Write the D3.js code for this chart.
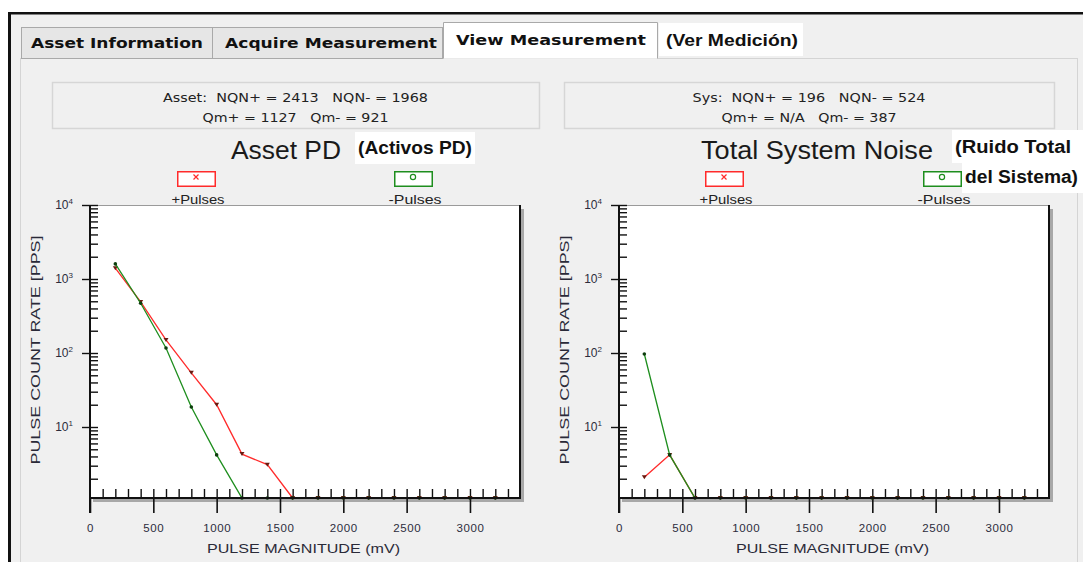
<!DOCTYPE html>
<html>
<head>
<meta charset="utf-8">
<script src="https://cdn.jsdelivr.net/npm/d3@7/dist/d3.min.js"></script>
<style>
  body { margin: 0; background: #fff; }
  svg { display: block; font-family: "Liberation Sans", Arial, sans-serif; }
  text { white-space: pre; }
</style>
</head>
<body>
<div id="chart"></div>
<script>
// pulse magnitude bins (mV)
const magnitudes = [200, 400, 600, 800, 1000, 1200, 1400, 1600, 1800, 2000, 2200, 2400, 2600, 2800, 3000, 3200];

// Asset PD, pulse count rate (PPS), 0 = nothing counted
const assetPos = [1400, 490, 150, 54, 20, 4.3, 3.1, 0, 0, 0, 0, 0, 0, 0, 0, 0];
const assetNeg = [1600, 470, 117, 18.6, 4.2, 0, 0, 0, 0, 0, 0, 0, 0, 0, 0, 0];

// Total System Noise
const noisePos = [2.1, 4.2, 0, 0, 0, 0, 0, 0, 0, 0, 0, 0, 0, 0, 0, 0];
const noiseNeg = [97, 4.2, 0, 0, 0, 0, 0, 0, 0, 0, 0, 0, 0, 0, 0, 0];

// ticks
const xTicks = [0, 500, 1000, 1500, 2000, 2500, 3000];
const yDecades = [10, 100, 1000, 10000];

// texts
const tabLabels = ["Asset Information", "Acquire Measurement", "View Measurement"];
const tabNote = "(Ver Medición)";
const seriesLabels = ["+Pulses", "-Pulses"];

const W = 1083, H = 562;
const RED = "#ff2b2b", GREEN = "#1e8e1e";

const svg = d3.select("#chart").append("svg")
    .attr("width", W)
    .attr("height", H);

// ventana
svg.append("rect").attr("width", W).attr("height", H).attr("fill", "#fff");
svg.append("rect").attr("x", 8).attr("y", 12).attr("width", W - 8).attr("height", H).attr("fill", "#111");
svg.append("rect").attr("x", 11).attr("y", 14.5).attr("width", W - 11).attr("height", H).attr("fill", "#f0f0f0");

// panel de contenido
svg.append("rect").attr("x", 20.5).attr("y", 58.5).attr("width", 1057).attr("height", 520)
    .attr("fill", "#f0f0f0").attr("stroke", "#d4d4d4");

// pestañas
const tabs = [
  {x0: 21, x1: 212, tx: 31, tl: 172},
  {x0: 212, x1: 442, tx: 225, tl: 212}
];
tabs.forEach((t, i) => {
  svg.append("rect").attr("x", t.x0 + 0.5).attr("y", 27.5).attr("width", t.x1 - t.x0).attr("height", 31)
      .attr("fill", "#e6e6e6").attr("stroke", "#a9a9a9");
  svg.append("text").attr("x", t.tx).attr("y", 48)
      .attr("font-family", "DejaVu Sans, Verdana, sans-serif").attr("font-weight", "bold")
      .attr("font-size", 13.5).attr("fill", "#111")
      .attr("textLength", t.tl).attr("lengthAdjust", "spacingAndGlyphs")
      .text(tabLabels[i]);
});
svg.append("path").attr("d", "M443.5,58.5 V22.5 H657.5 V58.5")
    .attr("fill", "#fff").attr("stroke", "#a9a9a9");
svg.append("text").attr("x", 456).attr("y", 45)
    .attr("font-family", "DejaVu Sans, Verdana, sans-serif").attr("font-weight", "bold")
    .attr("font-size", 13.5).attr("fill", "#111")
    .attr("textLength", 190).attr("lengthAdjust", "spacingAndGlyphs")
    .text(tabLabels[2]);
svg.append("rect").attr("x", 659).attr("y", 23).attr("width", 144).attr("height", 33).attr("fill", "#fff");
svg.append("text").attr("x", 666).attr("y", 46)
    .attr("font-family", "Liberation Sans Narrow, Liberation Sans, Arial, sans-serif").attr("font-weight", "bold")
    .attr("font-size", 17).attr("fill", "#111")
    .attr("textLength", 132).attr("lengthAdjust", "spacingAndGlyphs")
    .text(tabNote);

const panels = [
  {
    dx: 0, box: [52, 539], info: ["Asset:  NQN+ = 2413   NQN- = 1968", "Qm+ = 1127   Qm- = 921"], infoLen: [265, 186],
    title: "Asset PD", titleX: 231, titleLen: 110,
    notes: [{box: [355, 132, 120, 32], x: 358, y: 154, len: 114, text: "(Activos PD)"}],
    legend: [177, 394],
    pos: assetPos, neg: assetNeg
  },
  {
    dx: 529, box: [564, 1054], info: ["Sys:  NQN+ = 196   NQN- = 524", "Qm+ = N/A   Qm- = 387"], infoLen: [233, 175],
    title: "Total System Noise", titleX: 701, titleLen: 232,
    notes: [
      {box: [952, 130, 131, 33], x: 955, y: 153, len: 116, text: "(Ruido Total"},
      {box: [962, 163, 121, 30], x: 965, y: 183, len: 113, text: "del Sistema)"}
    ],
    legend: [705, 923],
    pos: noisePos, neg: noiseNeg
  }
];

panels.forEach(drawPanel);

function drawPanel(p) {
  const g = svg.append("g");
  const left = 90 + p.dx, right = 520 + p.dx, top = 205, bottom = 498;

  // caja de resumen
  g.append("rect").attr("x", p.box[0] + 0.5).attr("y", 82.5).attr("width", p.box[1] - p.box[0]).attr("height", 46)
      .attr("fill", "#f0f0f0").attr("stroke", "#d6d6d6").attr("stroke-width", 1.5);
  const cx = (p.box[0] + p.box[1]) / 2;
  p.info.forEach((t, i) => {
    g.append("text").attr("x", cx - p.infoLen[i] / 2).attr("y", 102 + i * 20)
        .attr("font-family", "DejaVu Sans, Tahoma, sans-serif").attr("font-size", 11.5).attr("fill", "#222")
        .attr("textLength", p.infoLen[i]).attr("lengthAdjust", "spacingAndGlyphs")
        .text(t);
  });

  // título
  g.append("text").attr("x", p.titleX).attr("y", 159)
      .attr("font-size", 25).attr("fill", "#1a1a1a")
      .attr("textLength", p.titleLen).attr("lengthAdjust", "spacingAndGlyphs")
      .text(p.title);

  p.notes.forEach(n => {
    g.append("rect").attr("x", n.box[0]).attr("y", n.box[1]).attr("width", n.box[2]).attr("height", n.box[3]).attr("fill", "#fff");
    g.append("text").attr("x", n.x).attr("y", n.y)
        .attr("font-family", "Liberation Sans Narrow, Liberation Sans, Arial, sans-serif")
        .attr("font-weight", "bold").attr("font-size", 18).attr("fill", "#111")
        .attr("textLength", n.len).attr("lengthAdjust", "spacingAndGlyphs")
        .text(n.text);
  });

  // leyenda
  [RED, GREEN].forEach((c, i) => {
    const lx = p.legend[i];
    g.append("rect").attr("x", lx + 0.75).attr("y", 171.75).attr("width", 37.5).attr("height", 14.5)
        .attr("fill", "#fff").attr("stroke", c).attr("stroke-width", 1.5);
    if (i === 0) {
      g.append("path").attr("d", `M${lx + 16.5},174.5 l5,5 M${lx + 21.5},174.5 l-5,5`)
          .attr("stroke", c).attr("stroke-width", 1.2);
    } else {
      g.append("circle").attr("cx", lx + 19).attr("cy", 177).attr("r", 2.6)
          .attr("fill", "none").attr("stroke", c).attr("stroke-width", 1.2);
    }
    g.append("text").attr("x", lx + 21 - 26.5).attr("y", 204)
        .attr("font-size", 13).attr("fill", "#222")
        .attr("textLength", 53).attr("lengthAdjust", "spacingAndGlyphs")
        .text(seriesLabels[i]);
  });

  // escalas
  const x = d3.scaleLinear().domain([0, 3395]).range([left, right]);
  const y = d3.scaleLog().domain([1, 10000]).range([501, top]);
  const yv = v => v > 0 ? Math.min(y(v), bottom) : bottom;

  // área del gráfico con sombra
  g.append("rect").attr("x", left + 3).attr("y", top + 4).attr("width", right - left + 1).attr("height", bottom - top)
      .attr("fill", "#a8a8a8");
  g.append("rect").attr("x", left).attr("y", top).attr("width", right - left).attr("height", bottom - top)
      .attr("fill", "#fff");
  g.append("line").attr("x1", left - 8).attr("x2", right).attr("y1", top + 0.5).attr("y2", top + 0.5)
      .attr("stroke", "#9a9a9a");

  // eje y
  const minor = [];
  [1, 10, 100, 1000].forEach(d => { for (let k = 2; k <= 9; k++) minor.push(k * d); });

  g.append("g").attr("transform", `translate(${left},0)`)
      .call(d3.axisRight(y).tickValues(minor.concat(yDecades)).tickSize(8).tickFormat(""))
      .call(a => a.select(".domain").remove())
      .call(a => a.selectAll(".tick line").attr("stroke", "#111").attr("stroke-width", 1.4));

  g.append("g").attr("transform", `translate(${left},0)`)
      .call(d3.axisLeft(y).tickValues(yDecades).tickSize(8).tickPadding(4).tickFormat(() => "10"))
      .call(a => a.select(".domain").remove())
      .call(a => a.selectAll(".tick line").attr("stroke", "#111").attr("stroke-width", 1.4))
      .call(a => a.selectAll(".tick text")
          .attr("font-family", "Liberation Sans, Arial, sans-serif")
          .attr("font-size", 12).attr("fill", "#2c2c3c").attr("dx", -5)
          .append("tspan").attr("dy", -5).attr("font-size", 8).text(d => Math.round(Math.log10(d))));

  g.append("line").attr("x1", left).attr("x2", left).attr("y1", top).attr("y2", 513)
      .attr("stroke", "#111").attr("stroke-width", 2);

  g.append("text")
      .attr("transform", `translate(${35 + p.dx},${350}) rotate(-90)`)
      .attr("x", -114.5).attr("y", 5)
      .attr("font-size", 13).attr("fill", "#2a2a38")
      .attr("textLength", 229).attr("lengthAdjust", "spacingAndGlyphs")
      .text("PULSE COUNT RATE [PPS]");

  // eje x
  const hundreds = d3.range(100, 3400, 100);
  g.append("g").attr("transform", `translate(0,${bottom})`)
      .call(d3.axisTop(x).tickValues(hundreds).tickSize(9).tickFormat(""))
      .call(a => a.select(".domain").remove())
      .call(a => a.selectAll(".tick line").attr("stroke", "#111").attr("stroke-width", 1.4));

  g.append("g").attr("transform", `translate(0,${bottom})`)
      .call(d3.axisBottom(x).tickValues(xTicks).tickSize(15).tickPadding(11).tickFormat(d3.format("d")))
      .call(a => a.select(".domain").remove())
      .call(a => a.selectAll(".tick line").attr("stroke", "#111").attr("stroke-width", 1.6))
      .call(a => a.selectAll(".tick text")
          .attr("font-family", "Liberation Sans, Arial, sans-serif")
          .attr("font-size", 11.5).attr("fill", "#2c2c3c").attr("letter-spacing", 0.6));

  g.append("text").attr("x", 207 + p.dx).attr("y", 553)
      .attr("font-size", 13).attr("fill", "#2a2a38")
      .attr("textLength", 193).attr("lengthAdjust", "spacingAndGlyphs")
      .text("PULSE MAGNITUDE (mV)");

  // series
  const line = d3.line().x(d => x(d.m)).y(d => yv(d.v));
  const seriesData = [
    {vals: p.pos, color: RED, mark: "tri"},
    {vals: p.neg, color: GREEN, mark: "dot"}
  ];
  seriesData.forEach(s => {
    const pts = magnitudes.map((m, i) => ({m, v: s.vals[i]}));
    g.append("path").datum(pts)
        .attr("d", line)
        .attr("fill", "none").attr("stroke", s.color).attr("stroke-width", 1.3);
    if (s.mark === "tri") {
      g.selectAll(null).data(pts).enter().append("path")
          .attr("transform", d => `translate(${x(d.m)},${yv(d.v)})`)
          .attr("d", "M-2.5,-2 L2.5,-2 L0,2 Z")
          .attr("fill", "#6a1a10");
    } else {
      g.selectAll(null).data(pts).enter().append("circle")
          .attr("cx", d => x(d.m)).attr("cy", d => yv(d.v)).attr("r", 1.8)
          .attr("fill", "#0d3d0d");
    }
  });

  // bordes del gráfico
  g.append("line").attr("x1", right).attr("x2", right).attr("y1", top).attr("y2", bottom + 1)
      .attr("stroke", "#111").attr("stroke-width", 2);
  g.append("line").attr("x1", left - 1).attr("x2", right + 1).attr("y1", bottom).attr("y2", bottom)
      .attr("stroke", "#111").attr("stroke-width", 2);
}
</script>
</body>
</html>
